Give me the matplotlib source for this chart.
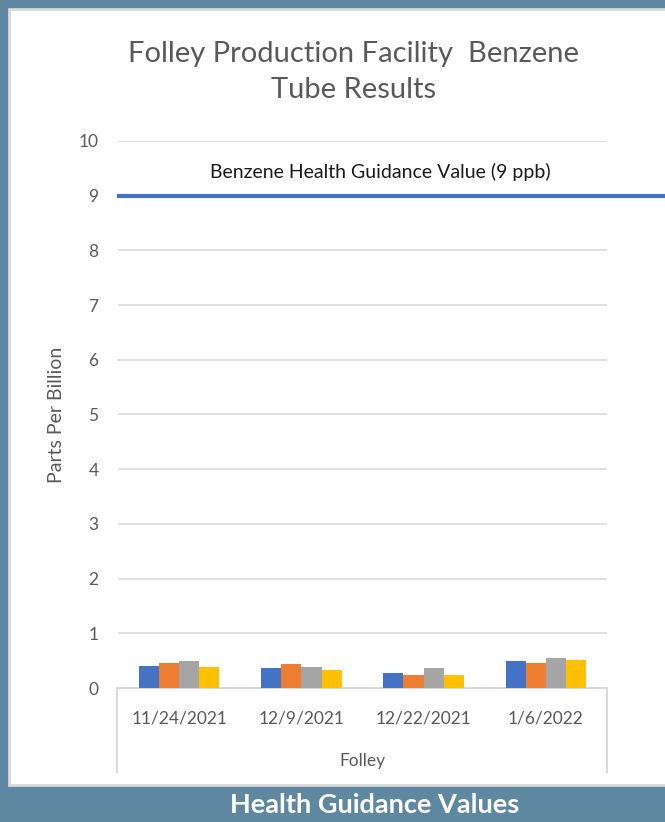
import matplotlib.pyplot as plt
import matplotlib.patches as mpatches
from matplotlib.lines import Line2D
import numpy as np

plt.rcParams['font.family'] = ['Lato', 'DejaVu Sans']

datas = ['11/24/2021', '12/9/2021', '12/22/2021', '1/6/2022']
tubo_1 = [0.40, 0.36, 0.28, 0.49]
tubo_2 = [0.46, 0.43, 0.24, 0.46]
tubo_3 = [0.49, 0.38, 0.37, 0.54]
tubo_4 = [0.38, 0.32, 0.24, 0.51]
series = [tubo_1, tubo_2, tubo_3, tubo_4]
cores = ['#4472C4', '#ED7D31', '#A5A5A5', '#FFC000']
valor_guia = 9

W, H = 665, 822
fig = plt.figure(figsize=(W / 100, H / 100), dpi=100, facecolor='#5E88A2')

# painel branco
painel = mpatches.Rectangle((9 / W, 1 - 785 / H), 1, (785 - 9) / H, transform=fig.transFigure,
                            facecolor='white', edgecolor='#D9D9D9', linewidth=2, zorder=-5)
fig.patches.append(painel)

ax = fig.add_axes([118 / W, 1 - 688 / H, (607 - 118) / W, (688 - 141) / H])
ax.set_facecolor('none')
ax.set_zorder(2)

x = np.arange(len(datas))
largura = 0.165
for i, (valores, cor) in enumerate(zip(series, cores)):
    ax.bar(x + (i - 1.5) * largura, valores, largura, color=cor, zorder=3)

ax.set_xlim(-0.5, len(datas) - 0.5)
ax.set_ylim(0, 10)
ax.set_yticks(range(0, 11))
ax.grid(axis='y', color='#D9D9D9', linewidth=1.2, zorder=0)
for lado in ['top', 'right', 'left']:
    ax.spines[lado].set_visible(False)
ax.spines['bottom'].set_color('#D9D9D9')
ax.spines['bottom'].set_linewidth(1.5)
ax.tick_params(axis='both', length=0, labelsize=12.5, labelcolor='#595959')
ax.tick_params(axis='y', pad=14)
ax.tick_params(axis='x', pad=16)
ax.set_xticks(x)
ax.set_xticklabels(datas)
ax.set_xlabel('Folley', fontsize=12.5, color='#595959', labelpad=19)
ax.set_ylabel('Parts Per Billion', fontsize=14, color='#595959', labelpad=10)

# linha do valor guia
ax.axhline(valor_guia, xmin=0.003, xmax=(W - 118) / (607 - 118), color='#4472C4',
           linewidth=3, clip_on=False, zorder=4)
ax.text(0.536, 9.43, 'Benzene Health Guidance Value (9 ppb)', transform=ax.get_yaxis_transform(),
        ha='center', va='center', fontsize=14, color='#1A1A1A')

# linhas da caixa do eixo de categorias
for xp in [117, 607]:
    fig.add_artist(Line2D([xp / W, xp / W], [1 - 688 / H, 1 - 772 / H], transform=fig.transFigure,
                          color='#D9D9D9', linewidth=1.5))

fig.text(354 / W, 1 - 72 / H, 'Folley Production Facility  Benzene\nTube Results', ha='center', va='center',
         fontsize=21, color='#595959', linespacing=1.45)

fig.text(375 / W, 1 - 805 / H, 'Health Guidance Values', ha='center', va='center',
         fontsize=19.5, color='white', fontweight='bold')

fig.savefig('out.png', dpi=100, facecolor=fig.get_facecolor())
